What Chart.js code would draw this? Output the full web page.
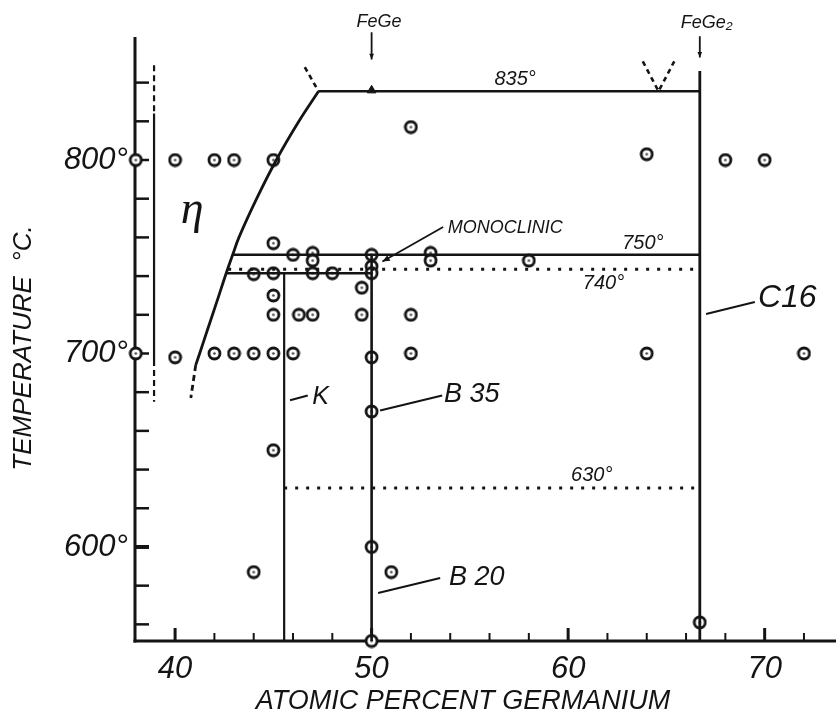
<!DOCTYPE html>
<html lang="en">
<head>
<meta charset="UTF-8">
<title>Fe-Ge phase diagram</title>
<style>
  body { margin: 0; background: #fff; overflow: hidden; }
  #wrap { width: 836px; height: 728px; }
</style>
<script src="https://cdn.jsdelivr.net/npm/chart.js@4.4.1/dist/chart.umd.min.js"></script>
</head>
<body>
<div id="wrap"><canvas id="myChart" width="836" height="728"></canvas></div>
<script>
// axis ranges: atomic % germanium / temperature
const geMin = 37.96, geMax = 73.63;
const tMin = 551.4, tMax = 882.7;
const yAxisTop = 863.6;
const xTickVals = [40, 42, 44, 46, 48, 50, 52, 54, 56, 58, 60, 62, 64, 66, 68, 70, 72];
const yTickVals = [560, 580, 600, 620, 640, 660, 680, 700, 720, 740, 760, 780, 800, 820, 840];

// annealed samples (ringed dots)
const sampleGe = [38, 40, 42, 43, 45, 52, 64, 68, 70,
  45, 46, 47, 47, 50, 50, 50, 53, 53, 58,
  44, 45, 47, 48, 45, 49.5,
  45, 46.3, 47, 49.5, 52,
  38, 40, 42, 43, 44, 45, 46, 50, 52, 64, 72,
  50, 45, 50, 44, 51, 50, 66.7];
const sampleT = [800, 800, 800, 800, 800, 817, 803, 800, 800,
  757, 751, 752, 748, 751, 745, 741.5, 752, 748, 748,
  741, 741.5, 741.5, 741.5, 730, 734,
  720, 720, 720, 720, 720,
  700, 698, 700, 700, 700, 700, 700, 698, 700, 700, 700,
  670, 650, 600, 587, 587, 551.4, 561];

// FeGe melting point
const triGe = [50];
const triT = [836];

// phase boundaries
const liqGe = [47.3, 46.3, 45.15, 44.15, 43.25, 42.93, 42.6, 42.1, 41.64, 41.25, 41.05];
const liqT = [835.5, 820, 800, 780, 760, 751, 741.5, 726, 712, 700, 694];
const liqDashGe = [41.05, 40.8];
const liqDashT = [694, 677];
const apexGe = [46.6, 47.3];
const apexT = [848, 835.5];
const vGe = [63.8, 64.6, 65.4];
const vT = [851, 835.5, 851];
const iso835Ge = [47.3, 66.7];
const iso835T = [835.5, 835.5];
const iso750Ge = [42.93, 66.7];
const iso750T = [751, 751];
const iso740Ge = [42.7, 66.7];
const iso740T = [743.5, 743.5];
const kTopGe = [42.6, 50];
const kTopT = [741.5, 741.5];
const iso630Ge = [45.55, 66.7];
const iso630T = [630.5, 630.5];
const kGe = [45.55, 45.55];
const kT = [741.5, 551.4];
const bGe = [50, 50];
const bT = [751, 551.4];
const c16Ge = [66.7, 66.7];
const c16T = [846, 551.4];
const etaGe = [38.93, 38.93];
const etaT = [824, 696.6];
const etaTopT = [849, 824];
const etaBotT = [696.6, 675];

// leader lines
const kLeadGe = [45.85, 46.75];
const kLeadT = [675.8, 678.3];
const b35LeadGe = [50.43, 53.59];
const b35LeadT = [670.5, 678.3];
const b20LeadGe = [50.33, 53.49];
const b20LeadT = [576.2, 584];
const c16LeadGe = [67.02, 69.5];
const c16LeadT = [720.4, 726.6];
const monoLeadGe = [53.64, 50.55];
const monoLeadT = [765.4, 747.5];
const feGeArrowGe = [50, 50];
const feGeArrowT = [866, 852];
const feGe2ArrowGe = [66.7, 66.7];
const feGe2ArrowT = [864, 853];

// annotations
const noteText = ['FeGe', 'FeGe\u2082', '835°', '750°', '740°', '630°', 'MONOCLINIC', 'K', 'B 35', 'B 20', 'C16', 'η'];
const noteGe = [50.38, 67.05, 57.3, 63.8, 61.8, 61.2, 56.8, 47.4, 55.1, 55.35, 71.15, 40.87];
const noteT = [871.3, 870.8, 841.9, 757.1, 736, 637.2, 764.9, 677.5, 679, 584, 728.7, 773.6];

const black = '#141414';

function pts(xs, ts) {
  return xs.map((x, i) => ({ x: x, y: ts[i] }));
}

function lineDs(xs, ts, width, dash, tension) {
  return {
    data: pts(xs, ts),
    showLine: true,
    borderColor: black,
    borderWidth: width,
    borderDash: dash || [],
    tension: tension || 0,
    pointRadius: 0,
    clip: false
  };
}

// ringed dot marker
const ring = document.createElement('canvas');
ring.width = 15;
ring.height = 15;
const rc = ring.getContext('2d');
rc.beginPath();
rc.arc(7.5, 7.5, 5.5, 0, Math.PI * 2);
rc.fillStyle = '#fff';
rc.fill();
rc.lineWidth = 2.8;
rc.strokeStyle = black;
rc.stroke();
rc.beginPath();
rc.arc(7.5, 7.5, 1.3, 0, Math.PI * 2);
rc.fillStyle = '#444';
rc.fill();

const datasets = [
  lineDs(liqGe, liqT, 2.8, null, 0.4),
  lineDs(liqDashGe, liqDashT, 2.8, [6, 4]),
  lineDs(apexGe, apexT, 2.6, [5, 4]),
  lineDs(vGe, vT, 2.6, [5, 4]),
  lineDs(iso835Ge, iso835T, 2.6),
  lineDs(iso750Ge, iso750T, 2.6),
  lineDs(iso740Ge, iso740T, 3, [3, 8]),
  lineDs(kTopGe, kTopT, 2.6),
  lineDs(iso630Ge, iso630T, 3, [3, 8]),
  lineDs(kGe, kT, 2.2),
  lineDs(bGe, bT, 2.6),
  lineDs(c16Ge, c16T, 2.8),
  lineDs(etaGe, etaT, 2.2),
  lineDs([38.93, 38.93], etaTopT, 2.2, [6, 4]),
  lineDs([38.93, 38.93], etaBotT, 2.2, [6, 4]),
  lineDs(kLeadGe, kLeadT, 2),
  lineDs(b35LeadGe, b35LeadT, 2),
  lineDs(b20LeadGe, b20LeadT, 2),
  lineDs(c16LeadGe, c16LeadT, 2),
  lineDs(monoLeadGe, monoLeadT, 1.8),
  lineDs(feGeArrowGe, feGeArrowT, 1.8),
  lineDs(feGe2ArrowGe, feGe2ArrowT, 1.8),
  {
    data: pts(triGe, triT),
    pointStyle: 'triangle',
    pointRadius: 5,
    backgroundColor: black,
    borderColor: black,
    clip: false
  },
  {
    data: pts(sampleGe, sampleT),
    pointStyle: ring,
    pointRadius: 7,
    clip: false
  }
];

const tickFont = { family: 'Liberation Sans', style: 'italic', size: 31 };

const noteFont = {
  'FeGe': 'italic 18px "Liberation Sans"',
  'FeGe\u2082': 'italic 18px "Liberation Sans"',
  'MONOCLINIC': 'italic 18px "Liberation Sans"',
  'K': 'italic 25px "Liberation Sans"',
  'B 35': 'italic 27px "Liberation Sans"',
  'B 20': 'italic 27px "Liberation Sans"',
  'C16': 'italic 32px "Liberation Sans"',
  'η': 'italic 46px "Liberation Serif"'
};

function arrowHead(ctx, x1, y1, x2, y2, size) {
  const a = Math.atan2(y2 - y1, x2 - x1);
  ctx.beginPath();
  ctx.moveTo(x2, y2);
  ctx.lineTo(x2 - size * Math.cos(a - 0.4), y2 - size * Math.sin(a - 0.4));
  ctx.lineTo(x2 - size * Math.cos(a + 0.4), y2 - size * Math.sin(a + 0.4));
  ctx.closePath();
  ctx.fill();
}

const axisPlugin = {
  id: 'axisPlugin',
  beforeDatasetsDraw(chart) {
    const { ctx, scales: { x, y } } = chart;
    const x0 = x.getPixelForValue(geMin);
    const y0 = y.getPixelForValue(tMin);
    ctx.save();
    ctx.strokeStyle = black;
    ctx.lineWidth = 3;
    ctx.beginPath();
    ctx.moveTo(x0, y.getPixelForValue(yAxisTop));
    ctx.lineTo(x0, y0 + 1.5);
    ctx.stroke();
    ctx.beginPath();
    ctx.moveTo(x0 - 1.5, y0);
    ctx.lineTo(x.getPixelForValue(geMax), y0);
    ctx.stroke();
    yTickVals.forEach(v => {
      const py = y.getPixelForValue(v);
      ctx.lineWidth = v === 600 ? 4 : 2.5;
      ctx.beginPath();
      ctx.moveTo(x0, py);
      ctx.lineTo(x0 + 14, py);
      ctx.stroke();
    });
    xTickVals.forEach(v => {
      const px = x.getPixelForValue(v);
      const major = v % 10 === 0;
      ctx.lineWidth = major ? 3 : 2;
      ctx.beginPath();
      ctx.moveTo(px, y0);
      ctx.lineTo(px, y0 - (major ? 13 : 8));
      ctx.stroke();
    });
    ctx.restore();
  },
  afterDatasetsDraw(chart) {
    const { ctx, scales: { x, y } } = chart;
    ctx.save();
    ctx.fillStyle = black;
    ctx.textAlign = 'center';
    ctx.textBaseline = 'middle';
    noteText.forEach((t, i) => {
      ctx.font = noteFont[t] || 'italic 20px "Liberation Sans"';
      ctx.fillText(t, x.getPixelForValue(noteGe[i]), y.getPixelForValue(noteT[i]));
    });
    // arrow heads
    [[monoLeadGe, monoLeadT, 8], [feGeArrowGe, feGeArrowT, 6], [feGe2ArrowGe, feGe2ArrowT, 6]].forEach(a => {
      arrowHead(ctx,
        x.getPixelForValue(a[0][0]), y.getPixelForValue(a[1][0]),
        x.getPixelForValue(a[0][1]), y.getPixelForValue(a[1][1]), a[2]);
    });
    // axis titles
    ctx.font = 'italic 27px "Liberation Sans"';
    ctx.fillText('ATOMIC PERCENT GERMANIUM', 463, 701);
    ctx.translate(24, 348);
    ctx.rotate(-Math.PI / 2);
    ctx.font = 'italic 26px "Liberation Sans"';
    ctx.fillText('TEMPERATURE  °C.', 0, 0);
    ctx.restore();
  }
};

const ctx = document.getElementById('myChart').getContext('2d');
const myChart = new Chart(ctx, {
  type: 'scatter',
  data: { datasets: datasets },
  options: {
    responsive: false,
    animation: false,
    layout: { padding: 0, autoPadding: false },
    plugins: {
      legend: { display: false },
      tooltip: { enabled: false }
    },
    scales: {
      x: {
        type: 'linear',
        min: geMin,
        max: geMax,
        afterFit: function (s) { s.height = 87; s.paddingLeft = 0; s.paddingRight = 0; },
        grid: { display: false, drawTicks: false },
        border: { display: false },
        ticks: {
          stepSize: 2,
          includeBounds: false,
          autoSkip: false,
          maxRotation: 0,
          padding: 10,
          color: black,
          font: tickFont,
          callback: function (v) {
            const r = Math.round(v);
            return r % 10 === 0 ? String(r) : '';
          }
        }
      },
      y: {
        type: 'linear',
        min: tMin,
        max: tMax,
        afterFit: function (s) { s.width = 135; s.paddingTop = 0; s.paddingBottom = 0; },
        grid: { display: false, drawTicks: false },
        border: { display: false },
        ticks: {
          stepSize: 20,
          includeBounds: false,
          autoSkip: false,
          padding: 7,
          color: black,
          font: tickFont,
          callback: function (v) {
            const r = Math.round(v);
            return r % 100 === 0 ? r + '°' : '';
          }
        }
      }
    }
  },
  plugins: [axisPlugin]
});
</script>
</body>
</html>
